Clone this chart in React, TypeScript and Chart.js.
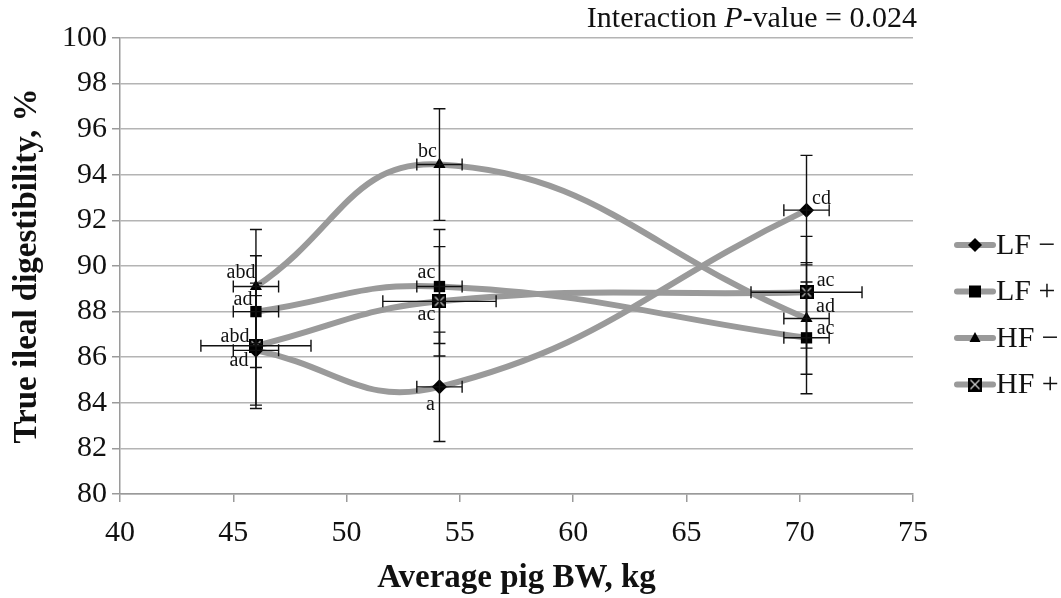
import React, { useEffect, useRef } from 'react';
import { Chart, registerables } from 'chart.js';

Chart.register(...registerables);

// ---------- data ----------
const seriesNames = ['LF −', 'LF +', 'HF −', 'HF +'];
const bodyWeight = [46.0, 54.1, 70.3];

const lfMinus = [86.3, 84.7, 92.45];
const lfPlus = [88.0, 89.1, 86.85];
const hfMinus = [89.1, 94.45, 87.7];
const hfPlus = [86.5, 88.45, 88.85];

const lfMinusYErr = [2.4, 2.4, 2.4];
const lfPlusYErr = [2.45, 2.5, 2.45];
const hfMinusYErr = [2.5, 2.45, 2.45];
const hfPlusYErr = [2.75, 2.4, 2.45];

const lfMinusXErr = [1.0, 1.0, 1.0];
const lfPlusXErr = [1.0, 1.0, 1.0];
const hfMinusXErr = [1.0, 1.0, 1.0];
const hfPlusXErr = [2.43, 2.5, 2.45];

const lfMinusLetters = ['ad', 'a', 'cd'];
const lfPlusLetters = ['ad', 'ac', 'ac'];
const hfMinusLetters = ['abd', 'bc', 'ad'];
const hfPlusLetters = ['abd', 'ac', 'ac'];

const yTickValues = [80, 82, 84, 86, 88, 90, 92, 94, 96, 98, 100];
const xTickValues = [40, 45, 50, 55, 60, 65, 70, 75];

const xTitle = 'Average pig BW, kg';
const yTitle = 'True ileal digestibility, %';
const annotationParts = ['Interaction ', 'P', '-value = 0.024'];

// ---------- styles ----------
const SERIF = "'Liberation Serif', 'Times New Roman', serif";
const LINE_GRAY = '#9a9a9a';
const TEXT = '#111111';
// label offsets (px) per series/point, relative to marker
const letterOffsets = [
  [[-17, 10], [-9, 18], [15, -11]],
  [[-13, -12], [-13, -14], [19, -9]],
  [[-15, -14], [-12, -13], [19, -12]],
  [[-21, -9], [-13, 13], [19, -11]],
];

function makeXSquare(): HTMLCanvasElement {
  const c = document.createElement('canvas');
  c.width = 14;
  c.height = 14;
  const g = c.getContext('2d')!;
  g.fillStyle = '#000';
  g.fillRect(0, 0, 14, 14);
  g.strokeStyle = '#cfcfcf';
  g.lineWidth = 1.3;
  g.beginPath();
  g.moveTo(2.5, 2.5);
  g.lineTo(11.5, 11.5);
  g.moveTo(11.5, 2.5);
  g.lineTo(2.5, 11.5);
  g.stroke();
  return c;
}

export default function App() {
  const ref = useRef<HTMLCanvasElement>(null);

  useEffect(() => {
    if (!ref.current) return;
    const xSquare = makeXSquare();

    const values = [lfMinus, lfPlus, hfMinus, hfPlus];
    const yErrs = [lfMinusYErr, lfPlusYErr, hfMinusYErr, hfPlusYErr];
    const xErrs = [lfMinusXErr, lfPlusXErr, hfMinusXErr, hfPlusXErr];
    const letters = [lfMinusLetters, lfPlusLetters, hfMinusLetters, hfPlusLetters];
    const pointStyles: any[] = ['rectRot', 'rect', 'triangle', xSquare];
    const radii = [7.5, 8, 7, 7];

    const datasets = values.map((vals, s) => ({
      label: seriesNames[s],
      data: bodyWeight.map((bw, i) => ({ x: bw, y: vals[i] })),
      borderColor: LINE_GRAY,
      borderWidth: 6,
      tension: 0.45,
      fill: false,
      pointStyle: pointStyles[s],
      pointRadius: radii[s],
      pointBackgroundColor: '#000',
      pointBorderColor: '#000',
      pointBorderWidth: 0,
    }));

    const errorBars = {
      id: 'errorBars',
      afterDatasetsDraw(chart: any) {
        const { ctx, scales } = chart;
        const x = scales.x;
        const y = scales.y;
        const cap = 6;
        ctx.save();
        ctx.strokeStyle = '#111';
        ctx.lineWidth = 1.4;
        values.forEach((vals, s) => {
          vals.forEach((v, i) => {
            const bw = bodyWeight[i];
            const px = x.getPixelForValue(bw);
            const py = y.getPixelForValue(v);
            const yt = y.getPixelForValue(v + yErrs[s][i]);
            const yb = y.getPixelForValue(v - yErrs[s][i]);
            const xl = x.getPixelForValue(bw - xErrs[s][i]);
            const xr = x.getPixelForValue(bw + xErrs[s][i]);
            ctx.beginPath();
            ctx.moveTo(px, yt);
            ctx.lineTo(px, yb);
            ctx.moveTo(px - cap, yt);
            ctx.lineTo(px + cap, yt);
            ctx.moveTo(px - cap, yb);
            ctx.lineTo(px + cap, yb);
            ctx.moveTo(xl, py);
            ctx.lineTo(xr, py);
            ctx.moveTo(xl, py - cap);
            ctx.lineTo(xl, py + cap);
            ctx.moveTo(xr, py - cap);
            ctx.lineTo(xr, py + cap);
            ctx.stroke();
          });
        });
        // letters
        ctx.fillStyle = TEXT;
        ctx.font = `20px ${SERIF}`;
        ctx.textAlign = 'center';
        ctx.textBaseline = 'middle';
        values.forEach((vals, s) => {
          vals.forEach((v, i) => {
            const px = x.getPixelForValue(bodyWeight[i]);
            const py = y.getPixelForValue(v);
            const [dx, dy] = letterOffsets[s][i];
            ctx.fillText(letters[s][i], px + dx, py + dy);
          });
        });
        ctx.restore();
      },
    };

    const legendAndNote = {
      id: 'legendAndNote',
      afterDraw(chart: any) {
        const { ctx, chartArea } = chart;
        ctx.save();
        // legend
        const lx = chartArea.right + 44;
        seriesNames.forEach((name, s) => {
          const cy = 245 + s * 46.5;
          ctx.strokeStyle = LINE_GRAY;
          ctx.lineWidth = 6;
          ctx.lineCap = 'round';
          ctx.beginPath();
          ctx.moveTo(lx, cy);
          ctx.lineTo(lx + 36, cy);
          ctx.stroke();
          const mx = lx + 18;
          ctx.fillStyle = '#000';
          if (s === 0) {
            ctx.beginPath();
            ctx.moveTo(mx, cy - 7);
            ctx.lineTo(mx + 7, cy);
            ctx.lineTo(mx, cy + 7);
            ctx.lineTo(mx - 7, cy);
            ctx.closePath();
            ctx.fill();
          } else if (s === 1) {
            ctx.fillRect(mx - 6, cy - 6, 12, 12);
          } else if (s === 2) {
            ctx.beginPath();
            ctx.moveTo(mx, cy - 6);
            ctx.lineTo(mx + 5.5, cy + 4);
            ctx.lineTo(mx - 5.5, cy + 4);
            ctx.closePath();
            ctx.fill();
          } else {
            ctx.drawImage(xSquare, mx - 7, cy - 7);
          }
          ctx.fillStyle = TEXT;
          ctx.font = `30px ${SERIF}`;
          ctx.textAlign = 'left';
          ctx.textBaseline = 'middle';
          ctx.fillText(name, lx + 39, cy + 1);
        });
        // annotation
        const fonts = [`30px ${SERIF}`, `italic 30px ${SERIF}`, `30px ${SERIF}`];
        let total = 0;
        const widths = annotationParts.map((p, k) => {
          ctx.font = fonts[k];
          const w = ctx.measureText(p).width;
          total += w;
          return w;
        });
        let ax = chartArea.right + 4 - total;
        ctx.textAlign = 'left';
        ctx.textBaseline = 'alphabetic';
        ctx.fillStyle = TEXT;
        annotationParts.forEach((p, k) => {
          ctx.font = fonts[k];
          ctx.fillText(p, ax, 27);
          ax += widths[k];
        });
        ctx.restore();
      },
    };

    const chart = new Chart(ref.current, {
      type: 'line',
      data: { datasets },
      options: {
        animation: false,
        responsive: true,
        maintainAspectRatio: false,
        layout: { padding: { top: 38, right: 148, left: 0, bottom: 0 } },
        plugins: {
          legend: { display: false },
          tooltip: { enabled: false },
        },
        scales: {
          x: {
            type: 'linear',
            min: 40,
            max: 75,
            afterFit: (s: any) => {
              s.height = 104;
            },
            afterBuildTicks: (s: any) => {
              s.ticks = xTickValues.map((v) => ({ value: v }));
            },
            ticks: {
              font: { family: SERIF, size: 30 },
              color: TEXT,
              padding: 13,
              maxRotation: 0,
            },
            grid: {
              drawOnChartArea: false,
              tickLength: 8,
              color: '#9a9a9a',
              lineWidth: 1.5,
            },
            border: { color: '#9a9a9a', width: 1.5 },
            title: {
              display: true,
              text: xTitle,
              font: { family: SERIF, size: 33, weight: 'bold' },
              color: TEXT,
              padding: { top: 0, bottom: 0 },
            },
          },
          y: {
            type: 'linear',
            min: 80,
            max: 100,
            afterFit: (s: any) => {
              s.width = 120;
            },
            afterBuildTicks: (s: any) => {
              s.ticks = yTickValues.map((v) => ({ value: v }));
            },
            ticks: {
              font: { family: SERIF, size: 30 },
              color: TEXT,
              padding: 5,
            },
            grid: {
              color: '#b4b4b4',
              lineWidth: 1.5,
              tickLength: 8,
              tickColor: '#9a9a9a',
            },
            border: { color: '#9a9a9a', width: 1.5 },
            title: {
              display: true,
              text: yTitle,
              font: { family: SERIF, size: 33, weight: 'bold' },
              color: TEXT,
              padding: { top: 8, bottom: 0 },
            },
          },
        },
      },
      plugins: [errorBars, legendAndNote],
    });

    return () => chart.destroy();
  }, []);

  return (
    <div style={{ position: 'fixed', left: 0, top: 0, width: 1061, height: 598, background: '#fff' }}>
      <canvas ref={ref} />
    </div>
  );
}
